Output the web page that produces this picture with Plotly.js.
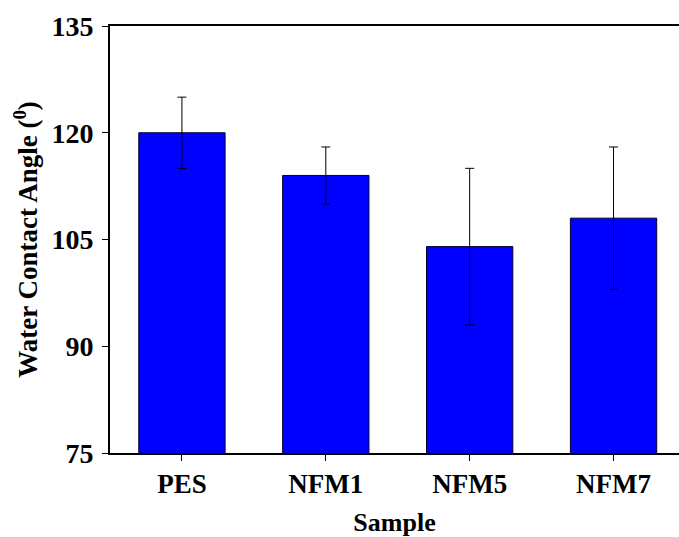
<!DOCTYPE html>
<html>
<head>
<meta charset="utf-8">
<script src="https://cdn.plot.ly/plotly-3.0.1.min.js"></script>
<style>html,body{margin:0;padding:0;background:#fff;}#chart{width:679px;height:537px;}</style>
</head>
<body>
<div id="chart"></div>
<script>
var samples = ["PES", "NFM1", "NFM5", "NFM7"];
var contactAngle = [120, 114, 104, 108];
var errorPlus = [5, 4, 11, 10];
var errorMinus = [5, 4, 11, 10];
var yTicks = [75, 90, 105, 120, 135];

var font = {family: "Liberation Serif, Times New Roman, serif", color: "#000"};

var trace = {
  type: "bar",
  x: samples,
  y: contactAngle,
  width: 0.6,
  marker: {color: "#0000FF", line: {color: "#000033", width: 1}},
  error_y: {type: "data", symmetric: false, array: errorPlus, arrayminus: errorMinus,
            color: "#000", thickness: 1, width: 4.5, visible: true},
  hoverinfo: "none"
};

var layout = {
  width: 679, height: 537,
  margin: {l: 110, r: 0, t: 26, b: 84},
  paper_bgcolor: "#fff", plot_bgcolor: "#fff",
  showlegend: false,
  xaxis: {
    type: "category",
    range: [-0.5, 3.455],
    showline: true, linecolor: "#000", linewidth: 2, mirror: true,
    ticks: "outside", ticklen: 6, tickwidth: 1, tickcolor: "#000",
    showgrid: false, zeroline: false,
    tickfont: Object.assign({size: 27, weight: "bold"}, font),
    title: {text: "<b>Sample</b>", font: Object.assign({size: 26}, font), standoff: 16}
  },
  yaxis: {
    range: [75, 135],
    tickvals: yTicks,
    ticktext: yTicks.map(String),
    showline: true, linecolor: "#000", linewidth: 2,
    ticks: "outside", ticklen: 6, tickwidth: 1, tickcolor: "#000",
    showgrid: false, zeroline: false,
    ticklabelstandoff: 3,
    tickfont: Object.assign({size: 28, weight: "bold"}, font),
    title: {text: "<b>Water Contact Angle (<sup>0</sup>)</b>", font: Object.assign({size: 27}, font), standoff: 6}
  }
};

Plotly.newPlot("chart", [trace], layout, {displayModeBar: false, staticPlot: true});
</script>
</body>
</html>
